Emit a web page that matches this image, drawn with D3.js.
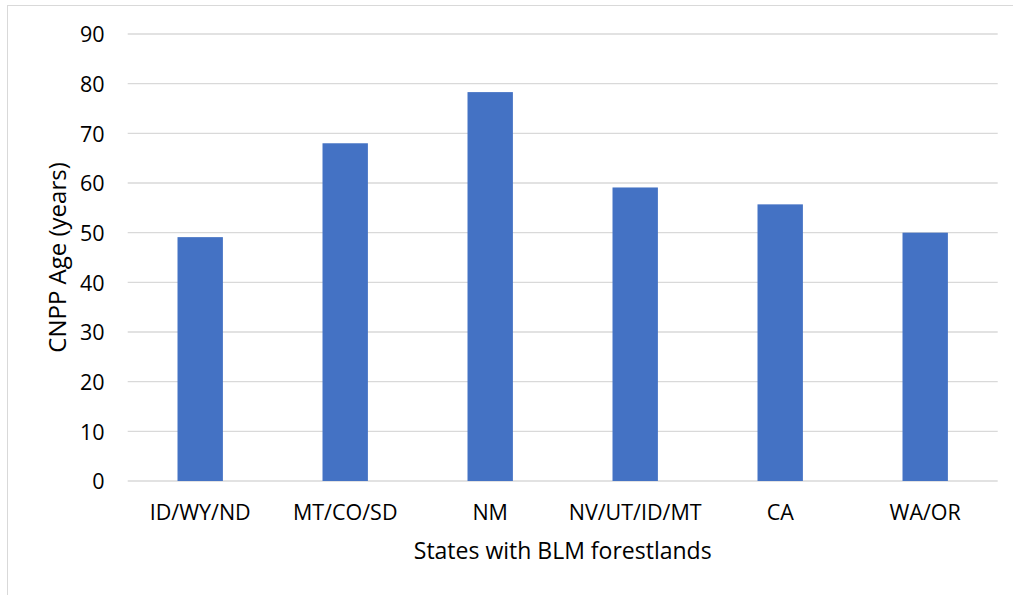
<!DOCTYPE html>
<html><head><meta charset="utf-8">
<script src="https://cdn.jsdelivr.net/npm/d3@7"></script>
<style>
html,body{margin:0;padding:0;background:#fff;}
svg text{font-family:"Open Sans",sans-serif;fill:#000;}
</style></head>
<body><svg id="c" width="1013" height="595"></svg>
<script>
const categories = ["ID/WY/ND","MT/CO/SD","NM","NV/UT/ID/MT","CA","WA/OR"];
const values = [49.1, 68.0, 78.3, 59.1, 55.7, 50.0];
const yTicks = [0,10,20,30,40,50,60,70,80,90];

const svg = d3.select("#c");
const L = 127.7, R = 997.7, T = 34, B = 481;

svg.append("rect").attr("x",7.5).attr("y",5.5).attr("width",1013).attr("height",600)
  .attr("fill","#fff").attr("stroke","#d9d9d9").attr("stroke-width",1);

const x = d3.scaleBand().domain(categories).range([L,R]).paddingInner(0.687).paddingOuter(0.3435);
const y = d3.scaleLinear().domain([0,90]).range([B,T]);

svg.append("g").selectAll("line").data(yTicks).join("line")
  .attr("x1",L).attr("x2",R).attr("y1",d=>y(d)).attr("y2",d=>y(d))
  .attr("stroke","#d9d9d9").attr("stroke-width",1.3);

const yAxis = d3.axisLeft(y).tickValues(yTicks).tickSize(0).tickPadding(0);
const gy = svg.append("g").attr("transform",`translate(104.5,0)`).call(yAxis);
gy.select(".domain").remove();
gy.selectAll("text").style("font-size","21.5px").attr("dy","0.36em");

svg.append("g").selectAll("rect").data(values).join("rect")
  .attr("x",(d,i)=>x(categories[i])).attr("width",x.bandwidth())
  .attr("y",d=>y(d)).attr("height",d=>B-y(d))
  .attr("fill","#4472c4");

const xAxis = d3.axisBottom(x).tickSize(0).tickPadding(0);
const gx = svg.append("g").attr("transform",`translate(0,${B})`).call(xAxis);
gx.select(".domain").remove();
gx.selectAll("text").style("font-size","21.5px").attr("y",39).attr("dy",0);

svg.append("text").attr("x",(L+R)/2).attr("y",559).attr("text-anchor","middle")
  .style("font-size","23px").text("States with BLM forestlands");
svg.append("text").attr("transform",`translate(66,257.5) rotate(-90)`).attr("text-anchor","middle")
  .style("font-size","24px").text("CNPP Age (years)");
</script></body></html>
